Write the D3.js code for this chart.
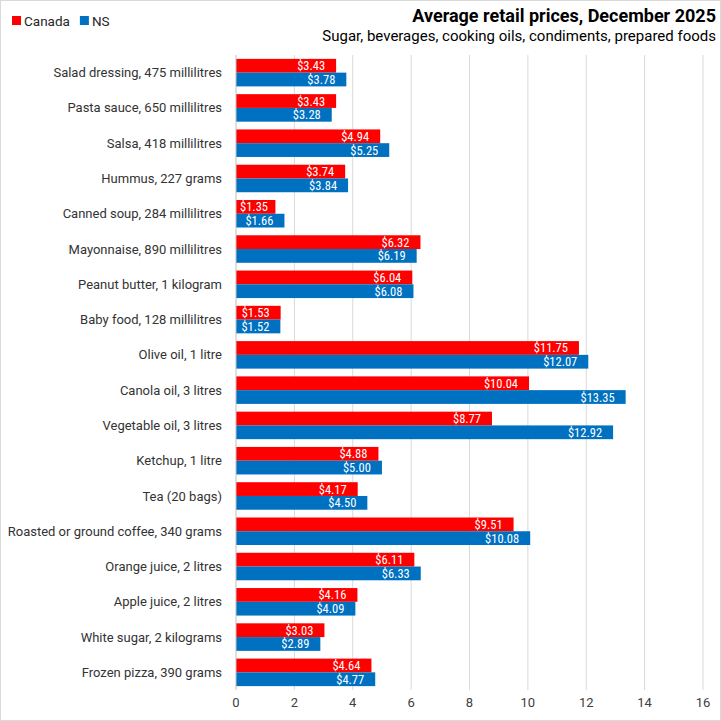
<!DOCTYPE html>
<html lang="en">
<head>
    <meta charset="UTF-8">
    <title>Average retail prices, December 2025</title>
    <script src="https://d3js.org/d3.v7.min.js"></script>
    <style>
        body, html {
            margin: 0;
            padding: 0;
            background: #fff;
            overflow: hidden;
        }
        svg { display: block; }
    </style>
</head>
<body>
    <div id="chart"></div>
    <script>
        // data
        const categories = [
            "Salad dressing, 475 millilitres",
            "Pasta sauce, 650 millilitres",
            "Salsa, 418 millilitres",
            "Hummus, 227 grams",
            "Canned soup, 284 millilitres",
            "Mayonnaise, 890 millilitres",
            "Peanut butter, 1 kilogram",
            "Baby food, 128 millilitres",
            "Olive oil, 1 litre",
            "Canola oil, 3 litres",
            "Vegetable oil, 3 litres",
            "Ketchup, 1 litre",
            "Tea (20 bags)",
            "Roasted or ground coffee, 340 grams",
            "Orange juice, 2 litres",
            "Apple juice, 2 litres",
            "White sugar, 2 kilograms",
            "Frozen pizza, 390 grams"
        ];
        const canada = [3.43, 3.43, 4.94, 3.74, 1.35, 6.32, 6.04, 1.53, 11.75, 10.04, 8.77, 4.88, 4.17, 9.51, 6.11, 4.16, 3.03, 4.64];
        const ns = [3.78, 3.28, 5.25, 3.84, 1.66, 6.19, 6.08, 1.52, 12.07, 13.35, 12.92, 5.00, 4.50, 10.08, 6.33, 4.09, 2.89, 4.77];
        const seriesNames = ["Canada", "NS"];
        const ticks = [0, 2, 4, 6, 8, 10, 12, 14, 16];

        const W = 721, H = 721;
        const colors = { Canada: "#FF0000", NS: "#0070C0" };
        const labelFont = "'Liberation Sans Narrow', 'Roboto Condensed', 'Arial Narrow', sans-serif";
        const textFont = "Roboto, 'Noto Sans', sans-serif";

        const svg = d3.select("#chart").append("svg")
            .attr("width", W)
            .attr("height", H);

        // outer border
        svg.append("rect")
            .attr("x", 0.5).attr("y", 0.5)
            .attr("width", W - 1).attr("height", H - 1)
            .attr("fill", "#fff")
            .attr("stroke", "#d9d9d9");

        const x = d3.scaleLinear().domain([0, 16]).range([236, 703]);
        const y = d3.scaleBand().domain(categories).range([55, 690])
            .paddingInner(0.22).paddingOuter(0.11);
        const ySub = d3.scaleBand().domain(seriesNames).range([0, y.bandwidth()]);

        // gridlines
        svg.append("g")
            .selectAll("line")
            .data(ticks.slice(1))
            .enter().append("line")
            .attr("x1", d => x(d)).attr("x2", d => x(d))
            .attr("y1", 55).attr("y2", 690)
            .attr("stroke", "#d9d9d9");

        // x tick labels
        svg.append("g")
            .selectAll("text")
            .data(ticks)
            .enter().append("text")
            .attr("x", d => x(d))
            .attr("y", 707)
            .attr("text-anchor", "middle")
            .style("font-family", textFont)
            .style("font-size", "13px")
            .style("fill", "#404040")
            .text(d => d);

        // bars
        const rows = categories.map((c, i) => ({ cat: c, Canada: canada[i], NS: ns[i] }));

        const group = svg.append("g")
            .selectAll("g")
            .data(rows)
            .enter().append("g")
            .attr("transform", d => `translate(0,${y(d.cat)})`);

        seriesNames.forEach(s => {
            group.append("rect")
                .attr("x", x(0))
                .attr("y", ySub(s))
                .attr("width", d => x(d[s]) - x(0))
                .attr("height", ySub.bandwidth())
                .attr("fill", colors[s]);

            group.append("text")
                .attr("class", "val")
                .attr("y", ySub(s) + ySub.bandwidth() / 2)
                .attr("dy", "0.36em")
                .attr("text-anchor", "end")
                .style("font-family", labelFont)
                .style("font-size", "12.5px")
                .style("fill", "#fff")
                .text(d => "$" + d[s].toFixed(2))
                .attr("x", function (d) {
                    const w = this.getComputedTextLength();
                    return Math.max(x(d[s]) - 11, x(0) + w + 4);
                });
        });

        // axis line at zero
        svg.append("line")
            .attr("x1", x(0)).attr("x2", x(0))
            .attr("y1", 55).attr("y2", 690)
            .attr("stroke", "#bfbfbf");

        // category labels
        svg.append("g")
            .selectAll("text")
            .data(categories)
            .enter().append("text")
            .attr("x", 222)
            .attr("y", d => y(d) + y.bandwidth() / 2)
            .attr("dy", "0.35em")
            .attr("text-anchor", "end")
            .style("font-family", textFont)
            .style("font-size", "13px")
            .style("fill", "#333")
            .text(d => d);

        // title and subtitle
        svg.append("text")
            .attr("x", 716).attr("y", 22)
            .attr("text-anchor", "end")
            .style("font-family", textFont)
            .style("font-size", "18px")
            .style("font-weight", "bold")
            .style("fill", "#000")
            .text("Average retail prices, December 2025");

        svg.append("text")
            .attr("x", 716).attr("y", 41)
            .attr("text-anchor", "end")
            .style("font-family", textFont)
            .style("font-size", "15px")
            .style("fill", "#000")
            .text("Sugar, beverages, cooking oils, condiments, prepared foods");

        // legend
        const legend = svg.append("g").attr("transform", "translate(12,16)");
        let lx = 0;
        seriesNames.forEach(s => {
            legend.append("rect")
                .attr("x", lx).attr("y", 0)
                .attr("width", 9).attr("height", 9)
                .attr("fill", colors[s]);
            const t = legend.append("text")
                .attr("x", lx + 12).attr("y", 5)
                .attr("dy", "0.36em")
                .style("font-family", textFont)
                .style("font-size", "13.5px")
                .style("fill", "#262626")
                .text(s);
            lx += 12 + t.node().getComputedTextLength() + 10;
        });
    </script>
</body>
</html>
